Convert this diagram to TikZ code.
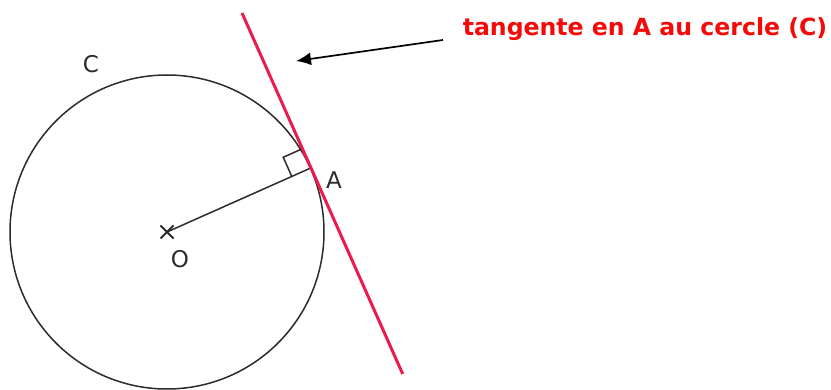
\documentclass[tikz,border=0pt]{standalone}
\usepackage{fontspec}
\setmainfont{DejaVu Sans}
\usetikzlibrary{arrows.meta,positioning,calc}
\definecolor{tangRed}{HTML}{EB1B4C}
\definecolor{textRed}{HTML}{F50A0A}
\definecolor{drawGray}{HTML}{2B2B2B}

\begin{document}
\begin{tikzpicture}[x=1pt,y=-1pt,>={Latex[length=15pt,width=13pt]},line width=1.5pt,
  ptlabel/.style={font=\fontsize{23}{27}\selectfont,text=drawGray,inner sep=0pt}]
  \useasboundingbox (0,0) rectangle (831,390);
  \coordinate (O) at (167,232);
  \coordinate (T1) at (242,13);
  \coordinate (T2) at (402.7,374);
  \coordinate (A) at ($(T1)!(O)!(T2)$);
  % circle, radius and centre cross
  \draw[drawGray] (O) circle (157);
  \draw[drawGray] (O) -- (A);
  \draw[drawGray,line width=2pt] ($(O)+(-6.5,-6.5)$) -- ($(O)+(6.5,6.5)$) ($(O)+(-6.5,6.5)$) -- ($(O)+(6.5,-6.5)$);
  % right angle mark
  \coordinate (R1) at ($(A)!21pt!(T1)$);
  \coordinate (R3) at ($(A)!21pt!(O)$);
  \coordinate (R2) at ($(R1)+(R3)-(A)$);
  \draw[drawGray] (R1) -- (R2) -- (R3);
  % tangent
  \draw[tangRed,line width=3pt] (T1) -- (T2);
  \node[ptlabel] (labC) at (91,64) {C};
  \node[ptlabel] (labA) at (334,180) {A};
  \node[ptlabel] (labO) at (180,259) {O};
  \node[font=\bfseries\fontsize{23.6}{28}\selectfont,text=textRed,anchor=base west,inner sep=0pt] (tangLabel) at (462,36) {tangente en A au cercle (C)};
  \coordinate (arrTip) at (296,61);
  \draw[->,line width=1.7pt] ([shift={(-19,4)}]tangLabel.base west) -- (arrTip);
\end{tikzpicture}
\end{document}
